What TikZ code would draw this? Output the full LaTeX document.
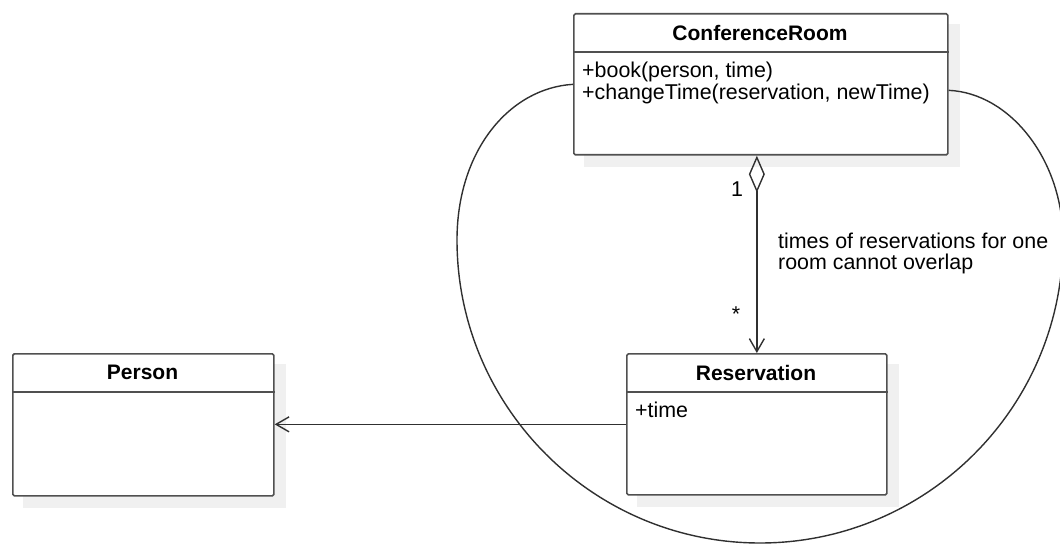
\documentclass[tikz,border=0pt]{standalone}
\usepackage{fontspec}
\setmainfont{Liberation Sans}
\usetikzlibrary{arrows.meta,backgrounds}
\definecolor{boxline}{HTML}{505050}
\definecolor{shadowc}{HTML}{F0F0F0}
\definecolor{linec}{HTML}{303030}
\begin{document}
\begin{tikzpicture}[x=1pt,y=-1pt, font=\fontsize{21.4pt}{23pt}\selectfont,
  classbox/.style={draw=boxline, line width=1.7pt, fill=white, rounded corners=1.5pt, anchor=north west, inner sep=0pt},
  sepline/.style={draw=boxline, line width=1.7pt},
  title/.style={font=\fontsize{21pt}{23pt}\selectfont\bfseries, inner sep=0pt},
  member/.style={anchor=base west, inner sep=0pt},
  conn/.style={draw=linec, line width=1.4pt},
  opentip/.style={-{Straight Barb[length=13pt,width=15pt]}}]
\useasboundingbox (0,0) rectangle (1060,545);
\node[classbox, minimum width=374pt, minimum height=141pt] (cr) at (573,13) {};
\node[classbox, minimum width=261pt, minimum height=142pt] (person) at (12,353) {};
\node[classbox, minimum width=260pt, minimum height=141pt] (res) at (626,353) {};
\draw[sepline] ([yshift=-39pt]cr.north west) -- ([yshift=-39pt]cr.north east);
\draw[sepline] ([yshift=-39pt]person.north west) -- ([yshift=-39pt]person.north east);
\draw[sepline] ([yshift=-39pt]res.north west) -- ([yshift=-39pt]res.north east);
\begin{scope}[on background layer]
\foreach \n in {cr,person,res}
  \fill[shadowc] ([shift={(11pt,-11pt)}]\n.north west) rectangle ([shift={(11pt,-11pt)}]\n.south east);
\end{scope}
\node[title] (crt) at (760,32.5) {ConferenceRoom};
\node[title] (pt) at (142.5,372.5) {Person};
\node[title] (rest) at (756,372.5) {Reservation};
\node[member] (m1) at (582,78) {+book(person, time)};
\node[member] (m2) at (582,100) {+changeTime(reservation, newTime)};
\node[member] (rt) at (635,417) {+time};
\draw[conn, {Diamond[open,length=37pt,width=16pt]}-{Straight Barb[length=13pt,width=15pt]}] (cr.south -| res.north) -- (res.north);
\node[anchor=base, inner sep=0pt] (one) at (737,197) {1};
\node[anchor=base, inner sep=0pt] (star) at (736,321) {*};
\node[member] (n1) at (778,249) {times of reservations for one};
\node[member] (n2) at (778,270) {room cannot overlap};
\draw[conn, opentip] (res.west) -- (res.west -| person.east);
\draw[conn] (cr.west) .. controls (510,88) and (457,150) .. (457,240)
  .. controls (457,407) and (593,543) .. (760,543)
  .. controls (927,543) and (1063,407) .. (1063,240)
  .. controls (1063,160) and (1010,93) .. ([yshift=-6pt]cr.east);
\end{tikzpicture}
\end{document}
